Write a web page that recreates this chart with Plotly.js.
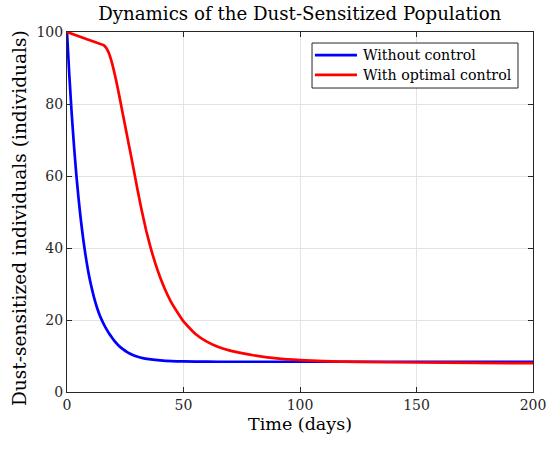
<!DOCTYPE html>
<html>
<head>
<meta charset="utf-8">
<script src="https://cdn.plot.ly/plotly-3.0.1.min.js"></script>
<style>html,body{margin:0;padding:0;background:#fff;}#chart{width:550px;height:451px;}</style>
</head>
<body>
<div id="chart"></div>
<script>
// Data
const timeNoControl = [0, 1, 2, 3, 4, 5, 6, 7, 8, 9, 10, 11, 12, 13, 14, 15, 16, 17, 18, 19, 20, 22, 24, 26, 28, 30, 33, 36, 40, 45, 50, 60, 70, 80, 100, 125, 150, 175, 200];
const withoutControl = [100, 88.0, 77.5, 68.4, 60.4, 53.5, 47.5, 42.3, 37.8, 33.9, 30.6, 27.8, 25.3, 23.2, 21.4, 19.9, 18.6, 17.4, 16.3, 15.4, 14.5, 13.0, 11.9, 11.0, 10.35, 9.85, 9.35, 9.05, 8.78, 8.57, 8.48, 8.42, 8.4, 8.4, 8.4, 8.4, 8.4, 8.4, 8.4];
const timeOptimal = [0, 8, 16, 17, 18, 19, 20, 21, 22, 23, 24, 25, 26, 27, 28, 29, 30, 31, 32, 34, 36, 38, 40, 42, 45, 50, 55, 60, 65, 70, 75, 80, 90, 100, 110, 125, 150, 175, 200];
const withOptimalControl = [100, 98.1, 96.2, 95.4, 94.1, 92.1, 89.6, 86.8, 83.7, 80.4, 77.1, 73.8, 70.5, 67.2, 63.9, 60.5, 57.1, 53.8, 50.6, 44.8, 39.8, 35.5, 31.8, 28.6, 24.6, 19.6, 16.2, 14.0, 12.5, 11.5, 10.8, 10.2, 9.35, 8.85, 8.55, 8.35, 8.2, 8.1, 8.0];
const seriesNames = ['Without control', 'With optimal control'];
const seriesColors = ['#0000ff', '#ff0000'];
const xTicks = [0, 50, 100, 150, 200];
const yTicks = [0, 20, 40, 60, 80, 100];

const serif = "'DejaVu Serif', 'Liberation Serif', serif";
const axisCol = '#262626';

const traces = [
  {x: timeNoControl, y: withoutControl, type: 'scatter', mode: 'lines', name: seriesNames[0],
   line: {color: seriesColors[0], width: 2.7, shape: 'spline', smoothing: 0.6}},
  {x: timeOptimal, y: withOptimalControl, type: 'scatter', mode: 'lines', name: seriesNames[1],
   line: {color: seriesColors[1], width: 2.7, shape: 'spline', smoothing: 0.4}}
];

const axisCommon = {
  showline: true, linecolor: axisCol, linewidth: 1, mirror: 'ticks',
  ticks: 'inside', ticklen: 5, tickcolor: axisCol, tickwidth: 1,
  showgrid: true, gridcolor: '#e3e3e3', gridwidth: 1, zeroline: false,
  tickfont: {family: serif, size: 14, color: axisCol}
};

// manual legend (MATLAB-like compact box)
const legRows = [0.936, 0.881];
const shapes = [
  {type: 'rect', xref: 'paper', yref: 'paper', x0: 0.5258, x1: 0.9678, y0: 0.8444, y1: 0.9694,
   line: {color: axisCol, width: 1}, fillcolor: '#ffffff', layer: 'above'}
];
const annotations = [
  {text: 'Dust-sensitized individuals (individuals)', xref: 'paper', yref: 'paper', x: -0.103, y: 0.483,
   xanchor: 'center', yanchor: 'middle', textangle: -90, showarrow: false,
   font: {family: serif, size: 18.6, color: '#000'}}
];
seriesNames.forEach((nm, i) => {
  shapes.push({type: 'line', xref: 'paper', yref: 'paper', x0: 0.532, x1: 0.6223, y0: legRows[i], y1: legRows[i],
               line: {color: seriesColors[i], width: 2.7}, layer: 'above'});
  annotations.push({text: nm, xref: 'paper', yref: 'paper', x: 0.631, y: legRows[i], xanchor: 'left', yanchor: 'middle',
                    showarrow: false, font: {family: serif, size: 14.2, color: '#000'}});
});

const layout = {
  width: 550, height: 451,
  margin: {l: 67, r: 17, t: 32, b: 59},
  paper_bgcolor: '#ffffff', plot_bgcolor: '#ffffff',
  title: {text: 'Dynamics of the Dust-Sensitized Population', x: 0.545, xanchor: 'center', y: 0.985, yanchor: 'top',
          font: {family: serif, size: 18.2, color: '#000'}},
  xaxis: Object.assign({}, axisCommon, {range: [0, 200], tickvals: xTicks, ticktext: xTicks.map(String),
          title: {text: 'Time (days)', font: {family: serif, size: 17.5, color: '#000'}, standoff: 5}}),
  yaxis: Object.assign({}, axisCommon, {range: [0, 100], tickvals: yTicks, ticktext: yTicks.map(String)}),
  shapes: shapes,
  annotations: annotations,
  showlegend: false
};

Plotly.newPlot('chart', traces, layout, {displayModeBar: false, staticPlot: true});
</script>
</body>
</html>
